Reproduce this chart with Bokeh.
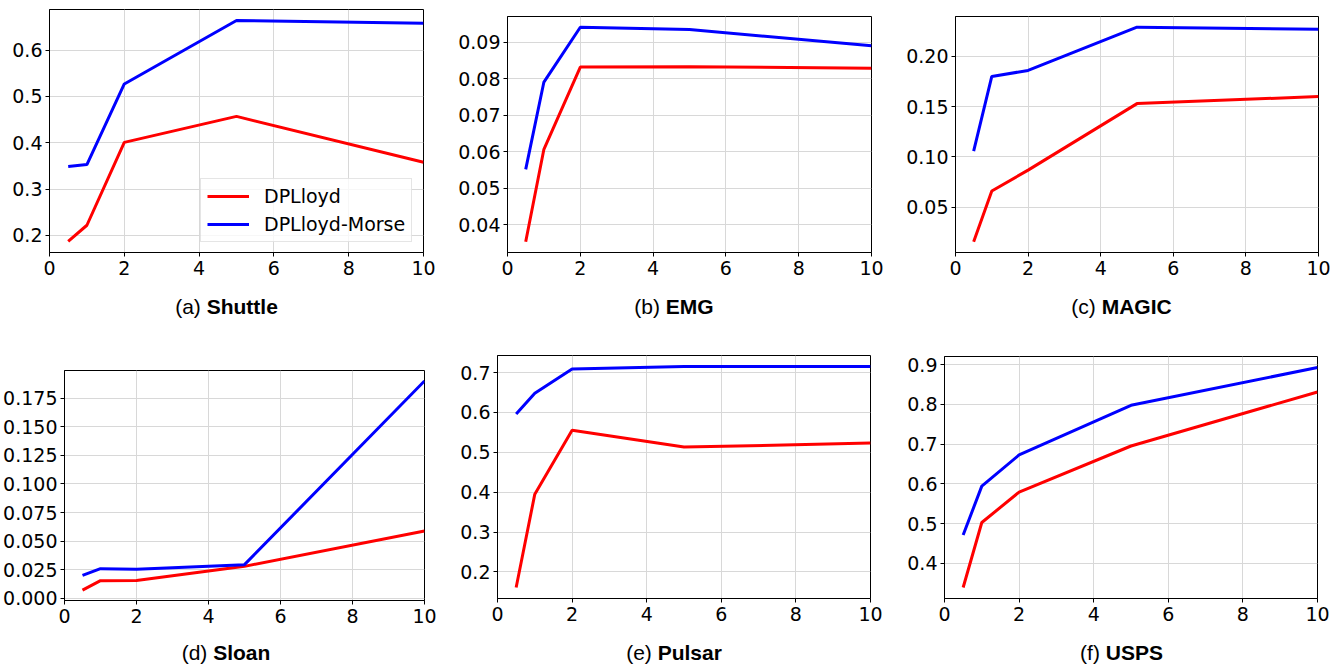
from bokeh.plotting import figure
from bokeh.layouts import column, row
from bokeh.models import Range1d, FixedTicker, PrintfTickFormatter, Div
from bokeh.embed import file_html
from bokeh.resources import INLINE

# ---------------- data ----------------
epsilon = [0.5, 1, 2, 5, 10]

shuttle_dplloyd = [0.187, 0.222, 0.401, 0.457, 0.358]
shuttle_morse = [0.349, 0.353, 0.527, 0.664, 0.658]

emg_dplloyd = [0.0354, 0.0607, 0.0832, 0.0833, 0.0829]
emg_morse = [0.0552, 0.0791, 0.0941, 0.0935, 0.0890]

magic_dplloyd = [0.0155, 0.066, 0.0868, 0.153, 0.160]
magic_morse = [0.1057, 0.180, 0.186, 0.229, 0.227]

sloan_dplloyd = [0.0073, 0.0155, 0.0157, 0.028, 0.0589]
sloan_morse = [0.0201, 0.026, 0.0254, 0.0295, 0.190]

pulsar_dplloyd = [0.161, 0.395, 0.555, 0.513, 0.523]
pulsar_morse = [0.596, 0.648, 0.709, 0.715, 0.715]

usps_dplloyd = [0.339, 0.5025, 0.579, 0.695, 0.831]
usps_morse = [0.471, 0.594, 0.6725, 0.7975, 0.8925]

x_ticks = [0, 2, 4, 6, 8, 10]
shuttle_yticks = [0.2, 0.3, 0.4, 0.5, 0.6]
emg_yticks = [0.04, 0.05, 0.06, 0.07, 0.08, 0.09]
magic_yticks = [0.05, 0.10, 0.15, 0.20]
sloan_yticks = [0.0, 0.025, 0.05, 0.075, 0.1, 0.125, 0.15, 0.175]
pulsar_yticks = [0.2, 0.3, 0.4, 0.5, 0.6, 0.7]
usps_yticks = [0.4, 0.5, 0.6, 0.7, 0.8, 0.9]

prefixes = ["(a)", "(b)", "(c)", "(d)", "(e)", "(f)"]
names = ["Shuttle", "EMG", "MAGIC", "Sloan", "Pulsar", "USPS"]
series_names = ["DPLloyd", "DPLloyd-Morse"]

panels_data = [
    (shuttle_dplloyd, shuttle_morse, shuttle_yticks, "%.1f"),
    (emg_dplloyd, emg_morse, emg_yticks, "%.2f"),
    (magic_dplloyd, magic_morse, magic_yticks, "%.2f"),
    (sloan_dplloyd, sloan_morse, sloan_yticks, "%.3f"),
    (pulsar_dplloyd, pulsar_morse, pulsar_yticks, "%.1f"),
    (usps_dplloyd, usps_morse, usps_yticks, "%.1f"),
]

# ------- layout: (width, fig height, left, right, top, bottom, caption height, caption pad-left, caption pad-top)
layout_spec = [
    (448, 288, 49, 25, 9, 36, 50, 5, 8),
    (440, 288, 59, 17, 16, 36, 50, 12, 8),
    (450, 288, 67, 20, 16, 36, 50, 17, 8),
    (448, 300, 62, 24, 32, 38, 28, 4, 4),
    (440, 300, 49, 18, 17, 40, 28, 12, 4),
    (450, 300, 56, 21, 18, 40, 28, 17, 4),
]

TICK_FONT = "DejaVu Sans"
CAP_FONT = "Liberation Sans"
RED = "#ff0000"
BLUE = "#0000ff"

cells = []
for i, ((red, blue, yticks, fmt), spec) in enumerate(zip(panels_data, layout_spec)):
    w, h, bl, br, bt, bb, ch, cpl, cpt = spec
    lo = min(red + blue)
    hi = max(red + blue)
    pad = 0.05 * (hi - lo)
    p = figure(width=w, height=h, output_backend="svg", toolbar_location=None,
               x_range=Range1d(0, 10), y_range=Range1d(lo - pad, hi + pad),
               min_border_left=bl, min_border_right=br,
               min_border_top=bt, min_border_bottom=bb, margin=0)
    p.background_fill_color = "white"
    p.border_fill_color = "white"
    p.outline_line_color = "black"
    p.outline_line_width = 1

    if i == 0:
        p.line(epsilon, red, line_color=RED, line_width=3, legend_label=series_names[0])
        p.line(epsilon, blue, line_color=BLUE, line_width=3, legend_label=series_names[1])
    else:
        p.line(epsilon, red, line_color=RED, line_width=3)
        p.line(epsilon, blue, line_color=BLUE, line_width=3)

    p.xaxis.ticker = FixedTicker(ticks=x_ticks)
    p.yaxis.ticker = FixedTicker(ticks=yticks)
    p.yaxis.formatter = PrintfTickFormatter(format=fmt)
    for ax in (p.xaxis, p.yaxis):
        ax.axis_line_color = "black"
        ax.major_tick_line_color = "black"
        ax.major_tick_out = 4
        ax.major_tick_in = 0
        ax.minor_tick_line_color = None
        ax.major_label_text_font = TICK_FONT
        ax.major_label_text_font_size = "19px"
        ax.major_label_text_color = "black"
        ax.major_label_standoff = 3
    p.xaxis.major_label_standoff = 4

    p.xgrid.grid_line_color = "#d8d8d8"
    p.ygrid.grid_line_color = "#d8d8d8"
    p.xgrid.grid_line_width = 1
    p.ygrid.grid_line_width = 1

    if i == 0:
        lg = p.legend[0]
        lg.location = (151, 10)
        lg.label_text_font = TICK_FONT
        lg.label_text_font_size = "19px"
        lg.label_text_color = "black"
        lg.glyph_width = 42
        lg.glyph_height = 22
        lg.label_height = 22
        lg.label_standoff = 15
        lg.padding = 6
        lg.spacing = 6
        lg.margin = 0
        lg.border_line_color = "#cccccc"
        lg.border_line_width = 1
        lg.background_fill_alpha = 0.8

    html = (
        f'<div style="width:{w}px;height:{ch}px;box-sizing:border-box;'
        f'padding-left:{cpl}px;padding-top:{cpt}px;text-align:center;'
        f'font-family:\'{CAP_FONT}\';font-size:21px;line-height:21px;color:black;'
        f'white-space:nowrap;">'
        f'{prefixes[i]} <b>{names[i]}</b></div>'
    )
    cap = Div(text=html, width=w, height=ch, margin=0)
    cells.append(column(p, cap, spacing=0, margin=0))

layout = column(row(*cells[:3], spacing=0, margin=0),
                row(*cells[3:], spacing=0, margin=0), spacing=0, margin=0)

open("out.html", "w").write(file_html(layout, INLINE))
